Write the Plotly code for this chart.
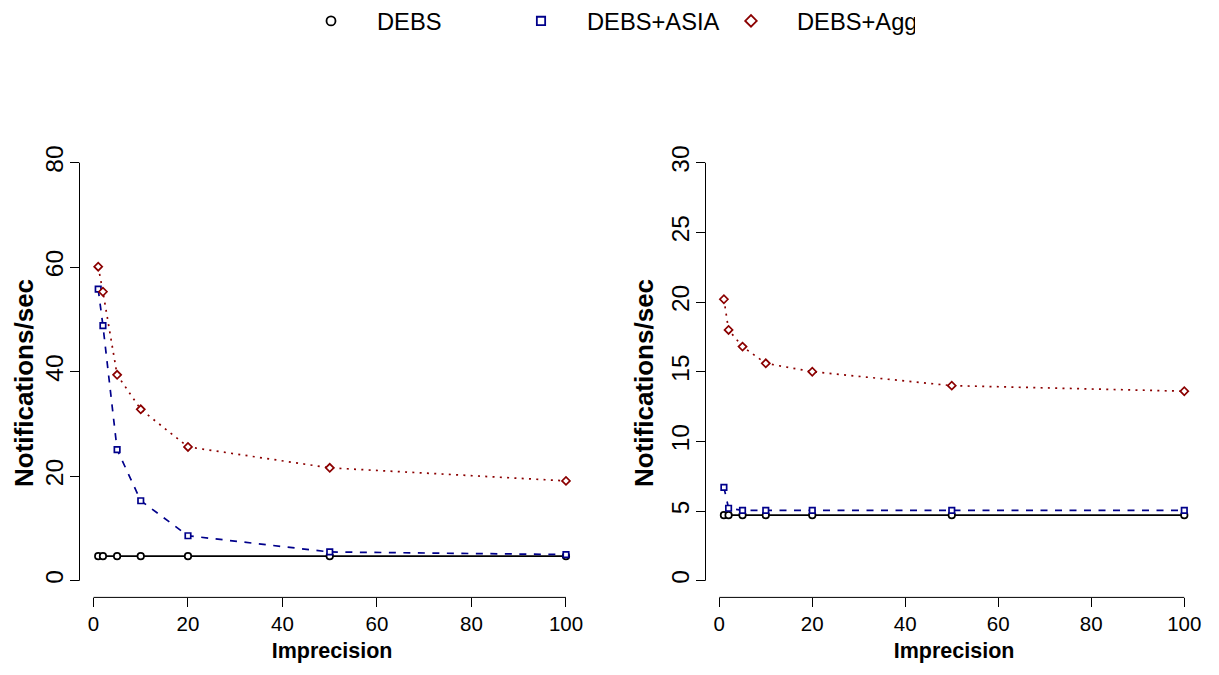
import plotly.graph_objects as go

# ---- data ----
imprecision = [1, 2, 5, 10, 20, 50, 100]

left_debs = [4.7, 4.7, 4.7, 4.7, 4.7, 4.7, 4.7]
left_asia = [55.8, 48.8, 25.1, 15.3, 8.6, 5.5, 5.0]
left_agg = [60.1, 55.3, 39.4, 32.8, 25.6, 21.6, 19.1]

right_debs = [4.7, 4.7, 4.7, 4.7, 4.7, 4.7, 4.7]
right_asia = [6.7, 5.2, 5.05, 5.05, 5.05, 5.05, 5.05]
right_agg = [20.2, 18.0, 16.8, 15.6, 15.0, 14.0, 13.6]

series_names = ["DEBS", "DEBS+ASIA", "DEBS+Agg"]
x_ticks = [0, 20, 40, 60, 80, 100]
left_y_ticks = [0, 20, 40, 60, 80]
right_y_ticks = [0, 5, 10, 15, 20, 25, 30]
x_title = "Imprecision"
y_title = "Notifications/sec"

# ---- styles ----
FONT = "Liberation Sans, Arial, sans-serif"
colors = ["#000000", "#00008B", "#8B0000"]
symbols = ["circle", "square", "diamond"]
msizes = [6.5, 5.5, 6.2]
dashes = ["solid", "7px,7.5px", "2px,5.3px"]

fig = go.Figure()

panels = [
    ("x", "y", [left_debs, left_asia, left_agg]),
    ("x2", "y2", [right_debs, right_asia, right_agg]),
]
for xa, ya, data in panels:
    for i, vals in enumerate(data):
        fig.add_trace(go.Scatter(
            x=imprecision, y=vals, xaxis=xa, yaxis=ya,
            mode="lines+markers", showlegend=False,
            line=dict(color=colors[i], width=1.7, dash=dashes[i]),
            marker=dict(symbol=symbols[i], size=msizes[i], color="white",
                        line=dict(color=colors[i], width=1.7)),
            name=series_names[i],
        ))

# legend-only entries (R legend shows symbols only)
leg_sizes = [9, 8.3, 8.9]
for i, nm in enumerate(series_names):
    fig.add_trace(go.Scatter(
        x=[None], y=[None], mode="markers", name=nm, showlegend=True,
        marker=dict(symbol=symbols[i], size=leg_sizes[i], color="white",
                    line=dict(color=colors[i], width=1.8)),
    ))

# page body has an 8px margin; figure is sized so it fits the 1219x675 window
OFF = 8
W, H = 1219 - OFF, 675 - OFF


def px_x(p):
    return (p - OFF) / W


def px_y(p):
    return 1 - (p - OFF) / H


ydom = [px_y(597.4), px_y(146)]
xdom1 = [px_x(79.5), px_x(584.7)]
xdom2 = [px_x(705.5), px_x(1202.7)]

xaxis_common = dict(
    range=[-2.96, 103.96], tickvals=x_ticks, ticks="outside", ticklen=9,
    tickwidth=1, tickcolor="black", showgrid=False, zeroline=False,
    showline=False, tickfont=dict(family=FONT, size=20.5, color="black"),
    ticklabelstandoff=-1,
    title=dict(text=f"<b>{x_title}</b>", font=dict(family=FONT, size=21.5, color="black"),
               standoff=8),
)
yaxis_common = dict(
    ticks="outside", ticklen=9, tickwidth=1, tickcolor="black",
    showgrid=False, zeroline=False, showline=False, tickangle=-90,
    ticklabelstandoff=-3,
    tickfont=dict(family=FONT, size=24.5, color="black"),
)

fig.update_layout(
    width=W, height=H,
    margin=dict(l=0, r=0, t=0, b=0, autoexpand=False),
    paper_bgcolor="white", plot_bgcolor="white",
    font=dict(family=FONT, color="black"),
    xaxis=dict(domain=xdom1, anchor="y", **xaxis_common),
    xaxis2=dict(domain=xdom2, anchor="y2", **xaxis_common),
    yaxis=dict(domain=ydom, anchor="x", range=[-3.2, 83.2], tickvals=left_y_ticks, **yaxis_common),
    yaxis2=dict(domain=ydom, anchor="x2", range=[-1.2, 31.2], tickvals=right_y_ticks, **yaxis_common),
    legend=dict(
        orientation="h", x=277 / W, xanchor="left", y=1 + 9 / H, yanchor="top",
        itemwidth=82, entrywidth=113, entrywidthmode="pixels",
        font=dict(family=FONT, size=23.7, color="black"),
        bgcolor="rgba(0,0,0,0)", itemclick=False,
    ),
    showlegend=True,
)

# axis lines spanning first to last tick (R style)
for xr, yr, ymax in [("x", "y", 80), ("x2", "y2", 30)]:
    fig.add_shape(type="line", xref=xr, yref=f"{yr} domain", x0=0, x1=100, y0=0, y1=0,
                  line=dict(color="black", width=1))
    fig.add_shape(type="line", xref=f"{xr} domain", yref=yr, x0=0, x1=0, y0=0, y1=ymax,
                  line=dict(color="black", width=1))

# y-axis titles
for xpix in [24, 644]:
    fig.add_annotation(
        text=f"<b>{y_title}</b>", xref="paper", yref="paper",
        x=px_x(xpix), y=px_y(383), xanchor="center", yanchor="middle",
        textangle=-90, showarrow=False,
        font=dict(family=FONT, size=26, color="black"),
    )

fig.write_html("out.html")
